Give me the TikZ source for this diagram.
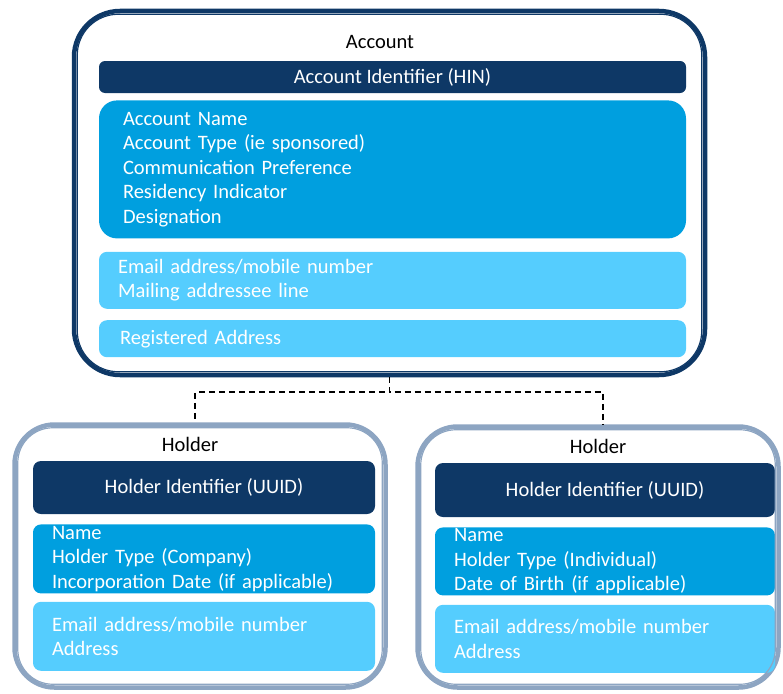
\documentclass[tikz,border=0pt]{standalone}
\usepackage{fontspec}
\setmainfont{Carlito}
\usepackage{xcolor}
\usepackage{tikz}
\usetikzlibrary{positioning}
\definecolor{navy}{RGB}{14,56,102}
\definecolor{midblue}{RGB}{0,159,223}
\definecolor{lightblue}{RGB}{85,205,254}
\definecolor{steel}{RGB}{141,165,194}
\tikzstyle{entity}     = [rectangle, rounded corners=46pt, line width=4.5pt]
\tikzstyle{heading}    = [font=\fontsize{20.5}{24.5}\selectfont, text=black, inner sep=0pt]
\tikzstyle{idbox}      = [rectangle, rounded corners=6pt, fill=navy, text=white, font=\fontsize{20.5}{24.5}\selectfont, align=center]
\tikzstyle{attrbox}    = [rectangle, rounded corners=18pt, fill=midblue, text=white, font=\fontsize{20.5}{24.5}\selectfont, align=left, inner ysep=0pt]
\tikzstyle{contactbox} = [rectangle, rounded corners=8pt, fill=lightblue, text=white, font=\fontsize{20.5}{24.5}\selectfont, align=left, inner ysep=0pt]
\tikzstyle{link}       = [black, line width=1.8pt, dash pattern=on 6pt off 4pt]

\begin{document}
\begin{tikzpicture}[x=1pt, y=-1pt]
    \useasboundingbox (0,0) rectangle (783,693);

    % account
    \node (account) [entity, draw=navy, minimum width=631pt, minimum height=364pt] at (389.5,193) {};
    \node (acctitle) [heading] at (380,42) {Account};
    \node (accid) [idbox, minimum width=587pt, minimum height=32pt] at (392.5,77) {Account Identifier (HIN)};
    \node (accattr) [attrbox, below=7pt of accid, text width=539pt, inner xsep=24pt, minimum height=138pt] {Account Name\\Account Type (ie sponsored)\\Communication Preference\\Residency Indicator\\Designation};
    \node (acccontact) [contactbox, below=13pt of accattr, text width=549pt, inner xsep=19pt, minimum height=57pt] {Email address/mobile number\\Mailing addressee line};
    \node (accaddr) [contactbox, below=11pt of acccontact, text width=545pt, inner xsep=21pt, minimum height=37pt] {Registered Address};

    % holders
    \node (holderA) [entity, draw=steel, rounded corners=40pt, minimum width=371pt, minimum height=263pt] at (200,556) {};
    \node (holderAtitle) [heading] at (190,444) {Holder};
    \node (holderAid) [idbox, rounded corners=8pt, minimum width=342pt, minimum height=53pt] at (204,487.5) {Holder Identifier (UUID)};
    \node (holderAattr) [attrbox, rounded corners=8pt, below=10pt of holderAid, text width=304pt, inner xsep=19pt, minimum height=69pt] {Name\\Holder Type (Company)\\Incorporation Date (if applicable)};
    \node (holderAcontact) [contactbox, below=8pt of holderAattr, text width=304pt, inner xsep=19pt, minimum height=69pt] {Email address/mobile number\\Address};

    \node (holderB) [entity, draw=steel, rounded corners=40pt, minimum width=361pt, minimum height=261pt] at (598,557) {};
    \node (holderBtitle) [heading] at (598,446) {Holder};
    \node (holderBid) [idbox, rounded corners=8pt, minimum width=340pt, minimum height=54pt] at (605,490) {Holder Identifier (UUID)};
    \node (holderBattr) [attrbox, rounded corners=8pt, below=10pt of holderBid, text width=302pt, inner xsep=19pt, minimum height=68pt] {Name\\Holder Type (Individual)\\Date of Birth (if applicable)};
    \node (holderBcontact) [contactbox, below=9pt of holderBattr, text width=302pt, inner xsep=19pt, minimum height=68pt] {Email address/mobile number\\Address};

    % inner rims
    \foreach \e/\c/\r in {account/navy/41, holderA/steel/35, holderB/steel/35}
        \draw [\c, line width=1.2pt, rounded corners=\r pt] ([shift={(5.5,5.5)}]\e.north west) rectangle ([shift={(-5.5,-5.5)}]\e.south east);

    \draw [link] (account.south) -- ++(0,15) -| ([xshift=-5pt]holderA.north);
    \draw [link] (account.south) -- ++(0,15) -| ([xshift=5pt]holderB.north);
  \end{tikzpicture}
\end{document}
